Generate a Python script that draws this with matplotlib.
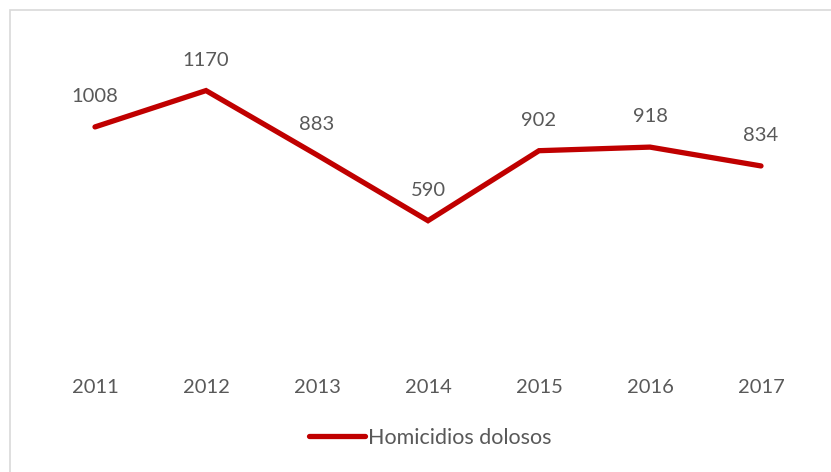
import matplotlib.pyplot as plt
from matplotlib.patches import Rectangle

years = ["2011", "2012", "2013", "2014", "2015", "2016", "2017"]
homicidios = [1008, 1170, 883, 590, 902, 918, 834]
series_name = "Homicidios dolosos"


def main():
    plt.rcParams["font.family"] = ["Lato", "DejaVu Sans"]
    fig = plt.figure(figsize=(8.31, 4.72), dpi=100)

    # light grey frame around chart area (cut off at right/bottom)
    fig.patches.append(Rectangle((10 / 831, -0.01), 1.0, (472 - 10) / 472 + 0.01,
                                 transform=fig.transFigure, fill=False,
                                 edgecolor="#d9d9d9", linewidth=1.2))

    ax = fig.add_axes([39.5 / 831, 119 / 472, 777 / 831, 314 / 472])
    x = range(len(years))
    ax.plot(x, homicidios, color="#c00000", linewidth=3.8,
            solid_capstyle="round", solid_joinstyle="miter", label=series_name)

    for xi, v in zip(x, homicidios):
        ax.annotate(str(v), (xi, v), xytext=(0, 22), textcoords="offset points",
                    ha="center", va="center", fontsize=14.5, color="#595959")

    ax.set_xlim(-0.5, len(years) - 0.5)
    ax.set_ylim(0, 1400)
    ax.set_xticks(list(x))
    ax.set_xticklabels(years, fontsize=14.5, color="#595959")
    ax.tick_params(axis="x", length=0, pad=19)
    ax.set_yticks([])
    for s in ax.spines.values():
        s.set_visible(False)

    leg = fig.legend(loc="center", bbox_to_anchor=(430 / 831, 1 - 438 / 472),
                     frameon=False, fontsize=15.5, handlelength=2.6,
                     handletextpad=0.15)
    for t in leg.get_texts():
        t.set_color("#595959")

    fig.savefig("out.png", dpi=100)


if __name__ == "__main__":
    main()
